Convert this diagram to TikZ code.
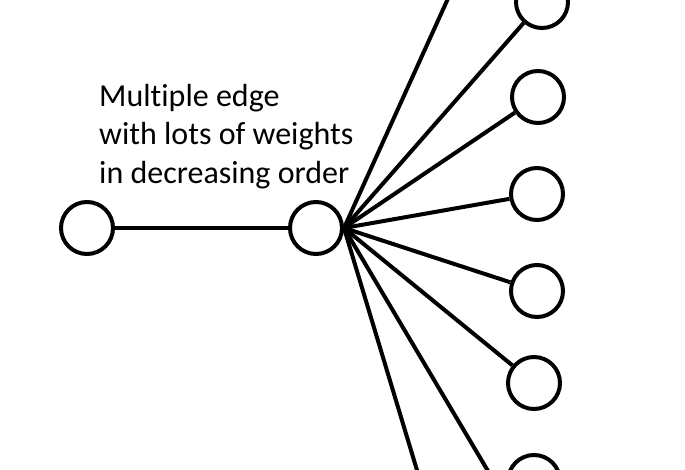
\documentclass[tikz,border=0pt]{standalone}
\usepackage{fontspec}
\setmainfont{Carlito}[Ligatures=NoCommon]
\usetikzlibrary{positioning}

\begin{document}
\begin{tikzpicture}[
  x=1pt,y=-1pt,
  vertex/.style={circle,draw=black,line width=4pt,fill=white,minimum size=52pt,inner sep=0pt},
  edge/.style={line width=4pt,color=black},
  note/.style={align=left,inner sep=0pt,font=\fontsize{32}{38.5}\selectfont}
]
\clip (0,0) rectangle (685,470);

\node[vertex] (src) at (87,228) {};
\node[vertex] (hub) at (316,228) {};

\node[vertex] (ra) at (542,2) {};
\node[vertex] (rb) at (538,97) {};
\node[vertex] (rc) at (537,194) {};
\node[vertex] (rd) at (537,291) {};
\node[vertex] (re) at (534,383) {};
\node[vertex] (rf) at (534,481) {};

% edges leaving the visible area
\coordinate (offtop) at (470,-50);
\coordinate (offbotl) at (432,520);
\coordinate (offbotr) at (517,520);

\draw[edge] (src)--(hub);
\draw[edge] (hub.east)--(offtop);
\draw[edge] (hub.east)--(ra);
\draw[edge] (hub.east)--(rb);
\draw[edge] (hub.east)--(rc);
\draw[edge] (hub.east)--(rd);
\draw[edge] (hub.east)--(re);
\draw[edge] (hub.east)--(offbotr);
\draw[edge] (hub.east)--(offbotl);

\node[note,anchor=north west] (label) at (99,84)
  {Multiple edge\\with lots of weights\\in decreasing order};
\end{tikzpicture}
\end{document}
